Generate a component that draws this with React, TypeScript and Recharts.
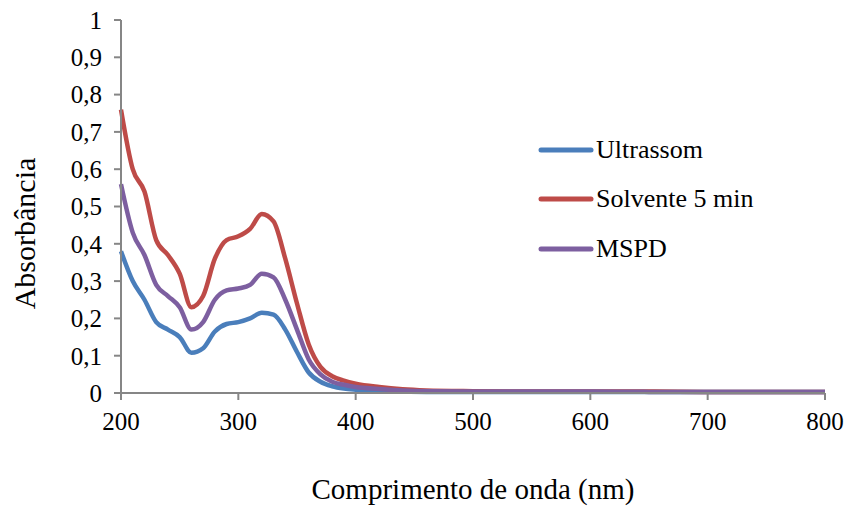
import { LineChart, Line, XAxis, YAxis, Legend, Label } from 'recharts'

const wavelengths = [200, 210, 220, 230, 240, 250, 260, 270, 280, 290, 300, 310, 320, 330, 340, 350, 360, 370, 380, 390, 400, 420, 440, 460, 500, 550, 600, 650, 700, 750, 800]
const ultrassom = [0.38, 0.3, 0.25, 0.19, 0.17, 0.15, 0.108, 0.12, 0.165, 0.185, 0.19, 0.2, 0.215, 0.21, 0.17, 0.11, 0.055, 0.03, 0.018, 0.012, 0.009, 0.006, 0.004, 0.003, 0.003, 0.003, 0.003, 0.003, 0.003, 0.003, 0.003]
const solvente = [0.76, 0.6, 0.54, 0.41, 0.37, 0.32, 0.23, 0.26, 0.36, 0.41, 0.42, 0.44, 0.48, 0.46, 0.36, 0.24, 0.13, 0.07, 0.045, 0.033, 0.025, 0.016, 0.01, 0.007, 0.005, 0.004, 0.004, 0.004, 0.003, 0.003, 0.003]
const mspd = [0.56, 0.43, 0.37, 0.29, 0.26, 0.23, 0.17, 0.19, 0.25, 0.275, 0.28, 0.29, 0.32, 0.31, 0.25, 0.17, 0.09, 0.05, 0.03, 0.022, 0.016, 0.011, 0.007, 0.005, 0.004, 0.004, 0.004, 0.003, 0.003, 0.003, 0.003]

const seriesNames = ['Ultrassom', 'Solvente 5 min', 'MSPD']
const xTicks = [200, 300, 400, 500, 600, 700, 800]
const yTicks = [0, 0.1, 0.2, 0.3, 0.4, 0.5, 0.6, 0.7, 0.8, 0.9, 1]

const data = wavelengths.map((nm, i) => ({
  nm,
  ultrassom: ultrassom[i],
  solvente: solvente[i],
  mspd: mspd[i],
}))

const font = 'Liberation Serif'
const axisColor = '#868686'

function YTitle({ viewBox }) {
  const x = viewBox.x + 35
  const y = viewBox.y + viewBox.height / 2 + 27
  return (
    <text x={x} y={y} transform={`rotate(-90 ${x} ${y})`} textAnchor="middle" fontFamily={font} fontSize={30} fill="#000">
      Absorbância
    </text>
  )
}

function LegendBox({ payload }) {
  const items = [...(payload || [])].sort((a, b) => seriesNames.indexOf(a.value) - seriesNames.indexOf(b.value))
  return (
    <div style={{ fontFamily: font, fontSize: 26, color: '#000' }}>
      {items.map((p) => (
        <div key={p.value} style={{ display: 'flex', alignItems: 'center', height: 49.5 }}>
          <svg width={58} height={10}>
            <line x1={3} y1={5} x2={53} y2={5} stroke={p.color} strokeWidth={5} strokeLinecap="round" />
          </svg>
          <span>{p.value}</span>
        </div>
      ))}
    </div>
  )
}

export default function App() {
  return (
    <div style={{ position: 'absolute', left: 0, top: 0, width: 847, height: 507, background: '#fff' }}>
      <LineChart width={847} height={507} data={data} margin={{ top: 20, right: 22, bottom: 0, left: 0 }}>
        <XAxis
          dataKey="nm"
          type="number"
          domain={[200, 800]}
          ticks={xTicks}
          stroke={axisColor}
          strokeWidth={2}
          tickSize={7}
          tickMargin={12}
          height={114}
          tick={{ fill: '#000', fontSize: 25, fontFamily: font }}
        >
          <Label value="Comprimento de onda (nm)" position="insideBottom" offset={8} fontFamily={font} fontSize={29} fill="#000" />
        </XAxis>
        <YAxis
          type="number"
          domain={[0, 1]}
          ticks={yTicks}
          interval={0}
          width={121}
          stroke={axisColor}
          strokeWidth={2}
          tickSize={7}
          tickMargin={12}
          tickFormatter={(v) => String(Math.round(v * 10) / 10).replace('.', ',')}
          tick={{ fill: '#000', fontSize: 25, fontFamily: font }}
        >
          <Label content={YTitle} />
        </YAxis>
        <Legend
          layout="vertical"
          align="center"
          verticalAlign="middle"
          content={LegendBox}
          wrapperStyle={{ left: 538, top: 125, width: 260 }}
        />
        <Line dataKey="ultrassom" name="Ultrassom" type="monotone" stroke="#4a7ebb" strokeWidth={4.5} dot={false} isAnimationActive={false} />
        <Line dataKey="solvente" name="Solvente 5 min" type="monotone" stroke="#be4b48" strokeWidth={4.5} dot={false} isAnimationActive={false} />
        <Line dataKey="mspd" name="MSPD" type="monotone" stroke="#7d5fa0" strokeWidth={4.5} dot={false} isAnimationActive={false} />
      </LineChart>
    </div>
  )
}
